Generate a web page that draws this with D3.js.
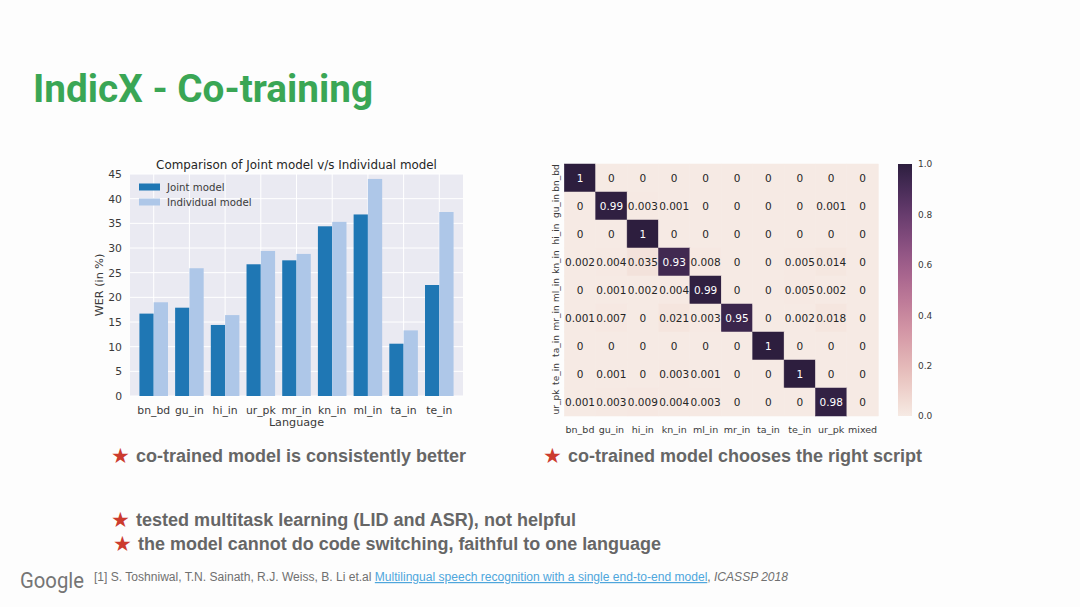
<!DOCTYPE html>
<html>
<head>
<meta charset="utf-8">
<script src="https://cdn.jsdelivr.net/npm/d3@7"></script>
<style>
  html, body { margin: 0; padding: 0; background: #fdfdfd; }
  svg { display: block; }
</style>
</head>
<body>
<script>
// bar chart data
const languages = ["bn_bd", "gu_in", "hi_in", "ur_pk", "mr_in", "kn_in", "ml_in", "ta_in", "te_in"];
const jointWER = [16.7, 17.9, 14.4, 26.7, 27.5, 34.4, 36.8, 10.6, 22.5];
const individualWER = [19.0, 25.9, 16.4, 29.4, 28.8, 35.3, 44.0, 13.3, 37.3];
const werTicks = [0, 5, 10, 15, 20, 25, 30, 35, 40, 45];
const seriesNames = ["Joint model", "Individual model"];

// confusion matrix data
const rowLangs = ["bn_bd", "gu_in", "hi_in", "kn_in", "ml_in", "mr_in", "ta_in", "te_in", "ur_pk"];
const colLangs = ["bn_bd", "gu_in", "hi_in", "kn_in", "ml_in", "mr_in", "ta_in", "te_in", "ur_pk", "mixed"];
const confusion = [
  [1, 0, 0, 0, 0, 0, 0, 0, 0, 0],
  [0, 0.99, 0.003, 0.001, 0, 0, 0, 0, 0.001, 0],
  [0, 0, 1, 0, 0, 0, 0, 0, 0, 0],
  [0.002, 0.004, 0.035, 0.93, 0.008, 0, 0, 0.005, 0.014, 0],
  [0, 0.001, 0.002, 0.004, 0.99, 0, 0, 0.005, 0.002, 0],
  [0.001, 0.007, 0, 0.021, 0.003, 0.95, 0, 0.002, 0.018, 0],
  [0, 0, 0, 0, 0, 0, 1, 0, 0, 0],
  [0, 0.001, 0, 0.003, 0.001, 0, 0, 1, 0, 0],
  [0.001, 0.003, 0.009, 0.004, 0.003, 0, 0, 0, 0.98, 0]
];
const colorbarTicks = [0, 0.2, 0.4, 0.6, 0.8, 1.0];

// slide text
const slideTitle = "IndicX - Co-training";
const bullets = [
  {text: "co-trained model is consistently better", x: 136, y: 462, w: 330},
  {text: "co-trained model chooses the right script", x: 568, y: 462, w: 354},
  {text: "tested multitask learning (LID and ASR), not helpful", x: 136, y: 526, w: 440},
  {text: "the model cannot do code switching, faithful to one language", x: 138, y: 550, w: 523}
];

const W = 1080, H = 607;
const svg = d3.select("body").append("svg")
    .attr("width", W)
    .attr("height", H)
    .attr("viewBox", [0, 0, W, H]);

const chartFont = "DejaVu Sans, sans-serif";
const textGrey = "#3a3a3a";

// ---------- title ----------
svg.append("text")
    .attr("x", 33)
    .attr("y", 102)
    .attr("font-family", "Roboto, Arial, sans-serif")
    .attr("font-weight", "bold")
    .attr("font-size", 38)
    .attr("fill", "#3aa655")
    .attr("textLength", 340)
    .attr("lengthAdjust", "spacingAndGlyphs")
    .text(slideTitle);

// ---------- bar chart ----------
const bx0 = 130, bx1 = 463, by0 = 396, by1 = 174;

const x = d3.scaleBand()
    .domain(languages)
    .range([bx0, bx1])
    .paddingInner(0.2)
    .paddingOuter(0.264);

const xSub = d3.scaleBand()
    .domain(seriesNames)
    .range([0, x.bandwidth()]);

const y = d3.scaleLinear()
    .domain([0, 45])
    .range([by0, by1]);

const bar = svg.append("g");

bar.append("rect")
    .attr("x", bx0).attr("y", by1)
    .attr("width", bx1 - bx0).attr("height", by0 - by1)
    .attr("fill", "#eaeaf2");

// grid
bar.append("g")
  .selectAll("line")
  .data(werTicks)
  .join("line")
    .attr("x1", bx0).attr("x2", bx1)
    .attr("y1", d => y(d)).attr("y2", d => y(d))
    .attr("stroke", "#fff").attr("stroke-width", 1);

bar.append("g")
  .selectAll("line")
  .data(languages)
  .join("line")
    .attr("x1", d => x(d) + x.bandwidth() / 2).attr("x2", d => x(d) + x.bandwidth() / 2)
    .attr("y1", by1).attr("y2", by0)
    .attr("stroke", "#fff").attr("stroke-width", 1);

const barColors = d3.scaleOrdinal().domain(seriesNames).range(["#1f77b4", "#aec7e8"]);

const barData = languages.flatMap((lang, i) => [
  {lang, series: seriesNames[0], value: jointWER[i]},
  {lang, series: seriesNames[1], value: individualWER[i]}
]);

bar.append("g")
  .selectAll("rect")
  .data(barData)
  .join("rect")
    .attr("x", d => x(d.lang) + xSub(d.series))
    .attr("y", d => y(d.value))
    .attr("width", xSub.bandwidth())
    .attr("height", d => y(0) - y(d.value))
    .attr("fill", d => barColors(d.series));

// axes
bar.append("g")
    .attr("transform", `translate(0,${by0})`)
    .call(d3.axisBottom(x).tickSize(0).tickPadding(10))
    .call(g => g.select(".domain").remove())
    .call(g => g.selectAll("text")
        .attr("font-family", chartFont)
        .attr("font-size", 10.8)
        .attr("fill", textGrey));

bar.append("g")
    .attr("transform", `translate(${bx0},0)`)
    .call(d3.axisLeft(y).tickValues(werTicks).tickSize(0).tickPadding(8))
    .call(g => g.select(".domain").remove())
    .call(g => g.selectAll("text")
        .attr("font-family", chartFont)
        .attr("font-size", 10.8)
        .attr("fill", textGrey));

bar.append("text")
    .attr("x", (bx0 + bx1) / 2).attr("y", 169)
    .attr("text-anchor", "middle")
    .attr("font-family", chartFont)
    .attr("font-size", 11.9)
    .attr("fill", "#262626")
    .text("Comparison of Joint model v/s Individual model");

bar.append("text")
    .attr("x", (bx0 + bx1) / 2).attr("y", 426)
    .attr("text-anchor", "middle")
    .attr("font-family", chartFont)
    .attr("font-size", 11.2)
    .attr("fill", textGrey)
    .text("Language");

bar.append("text")
    .attr("transform", `translate(103,${(by0 + by1) / 2}) rotate(-90)`)
    .attr("text-anchor", "middle")
    .attr("font-family", chartFont)
    .attr("font-size", 11.2)
    .attr("fill", textGrey)
    .text("WER (in %)");

// legend
const legend = bar.append("g")
  .selectAll("g")
  .data(seriesNames)
  .join("g")
    .attr("transform", (d, i) => `translate(139,${187 + i * 15})`);

legend.append("rect")
    .attr("x", 0).attr("y", -3.5)
    .attr("width", 21).attr("height", 7)
    .attr("fill", d => barColors(d));

legend.append("text")
    .attr("x", 28).attr("y", 4)
    .attr("font-family", chartFont)
    .attr("font-size", 10.2)
    .attr("fill", textGrey)
    .text(d => d);

// ---------- heatmap ----------
const hx0 = 564.3, hx1 = 878.3, hy0 = 164, hy1 = 416;

const hx = d3.scaleBand().domain(colLangs).range([hx0, hx1]);
const hy = d3.scaleBand().domain(rowLangs).range([hy0, hy1]);

// seaborn default cubehelix_palette(as_cmap=True)
function cubehelixCmap(t) {
  const light = 0.93, dark = 0.15, start = 0, rot = 0.4, hue = 0.8;
  const v = light + (dark - light) * t;
  const a = hue * v * (1 - v) / 2;
  const phi = 2 * Math.PI * (start / 3 + rot * v);
  const c = Math.cos(phi), s = Math.sin(phi);
  const r = v + a * (-0.14861 * c + 1.78277 * s);
  const g = v + a * (-0.29227 * c - 0.90649 * s);
  const b = v + a * (1.97294 * c);
  const cl = u => Math.round(255 * Math.max(0, Math.min(1, u)));
  return d3.rgb(cl(r), cl(g), cl(b)).formatHex();
}

const color = d3.scaleSequential(cubehelixCmap).domain([0, 1]);
const fmt = d3.format(".2~g");

const cells = rowLangs.flatMap((r, i) => colLangs.map((c, j) => ({r, c, v: confusion[i][j]})));

const heat = svg.append("g");

heat.append("g")
  .selectAll("rect")
  .data(cells)
  .join("rect")
    .attr("x", d => hx(d.c))
    .attr("y", d => hy(d.r))
    .attr("width", hx.bandwidth())
    .attr("height", hy.bandwidth())
    .attr("fill", d => color(d.v))
    .attr("stroke", d => color(d.v))
    .attr("stroke-width", 0.5);

heat.append("g")
  .selectAll("text")
  .data(cells)
  .join("text")
    .attr("x", d => hx(d.c) + hx.bandwidth() / 2)
    .attr("y", d => hy(d.r) + hy.bandwidth() / 2)
    .attr("dy", "0.35em")
    .attr("text-anchor", "middle")
    .attr("font-family", chartFont)
    .attr("font-size", 10.5)
    .attr("fill", d => d.v > 0.5 ? "#ffffff" : "#262626")
    .text(d => fmt(d.v));

heat.append("g")
    .attr("transform", `translate(0,${hy1})`)
    .call(d3.axisBottom(hx).tickSize(0).tickPadding(10))
    .call(g => g.select(".domain").remove())
    .call(g => g.selectAll("text")
        .attr("font-family", chartFont)
        .attr("font-size", 9.5)
        .attr("fill", textGrey));

heat.append("g")
  .selectAll("text")
  .data(rowLangs)
  .join("text")
    .attr("transform", d => `translate(556,${hy(d) + hy.bandwidth() / 2}) rotate(-90)`)
    .attr("dy", "0.35em")
    .attr("text-anchor", "middle")
    .attr("font-family", chartFont)
    .attr("font-size", 9)
    .attr("fill", textGrey)
    .text(d => d);

// colorbar
const cbx = 898, cbw = 14;
const cy = d3.scaleLinear().domain([0, 1]).range([hy1, hy0]);

const defs = svg.append("defs");
const grad = defs.append("linearGradient")
    .attr("id", "cbar")
    .attr("x1", 0).attr("y1", 1).attr("x2", 0).attr("y2", 0);
grad.selectAll("stop")
  .data(d3.range(0, 1.0001, 0.05))
  .join("stop")
    .attr("offset", d => d)
    .attr("stop-color", d => color(d));

heat.append("rect")
    .attr("x", cbx).attr("y", hy0)
    .attr("width", cbw).attr("height", hy1 - hy0)
    .attr("fill", "url(#cbar)");

heat.append("g")
    .attr("transform", `translate(${cbx + cbw},0)`)
    .call(d3.axisRight(cy).tickValues(colorbarTicks).tickFormat(d3.format(".1f")).tickSize(0).tickPadding(6))
    .call(g => g.select(".domain").remove())
    .call(g => g.selectAll("text")
        .attr("font-family", chartFont)
        .attr("font-size", 9)
        .attr("fill", textGrey));

// ---------- bullets ----------
const bulletG = svg.append("g")
  .selectAll("g")
  .data(bullets)
  .join("g");

bulletG.append("text")
    .attr("x", d => d.x - 25)
    .attr("y", d => d.y + 1)
    .attr("font-family", "DejaVu Sans, sans-serif")
    .attr("font-size", 21)
    .attr("fill", "#cc3b2e")
    .text("\u2605");

bulletG.append("text")
    .attr("x", d => d.x)
    .attr("y", d => d.y)
    .attr("font-family", "Liberation Sans, Arial, sans-serif")
    .attr("font-weight", "bold")
    .attr("font-size", 17.5)
    .attr("fill", "#666666")
    .attr("textLength", d => d.w)
    .attr("lengthAdjust", "spacingAndGlyphs")
    .text(d => d.text);

// ---------- footer ----------
svg.append("text")
    .attr("x", 20).attr("y", 588)
    .attr("font-family", "Roboto, Arial, sans-serif")
    .attr("font-size", 22)
    .attr("fill", "#757575")
    .attr("textLength", 64)
    .attr("lengthAdjust", "spacingAndGlyphs")
    .text("Google");

const ref = svg.append("text")
    .attr("x", 94).attr("y", 581)
    .attr("font-family", "Liberation Sans, Arial, sans-serif")
    .attr("font-size", 12)
    .attr("fill", "#707070")
    .attr("textLength", 694)
    .attr("lengthAdjust", "spacingAndGlyphs");
ref.append("tspan").text("[1] S. Toshniwal, T.N. Sainath, R.J. Weiss, B. Li et.al ");
ref.append("tspan")
    .attr("fill", "#4ea6dc")
    .attr("text-decoration", "underline")
    .text("Multilingual speech recognition with a single end-to-end model");
ref.append("tspan").text(", ");
ref.append("tspan").attr("font-style", "italic").text("ICASSP 2018");
</script>
</body>
</html>
